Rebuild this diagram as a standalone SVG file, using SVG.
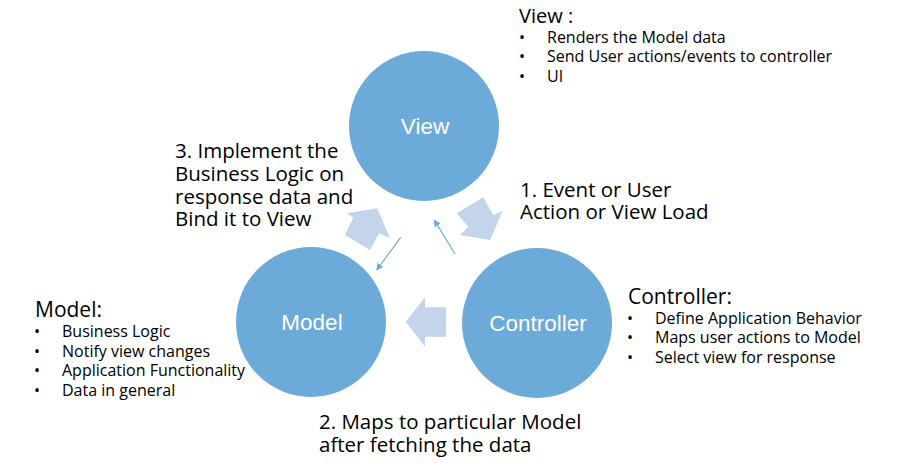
<svg xmlns="http://www.w3.org/2000/svg" width="918" height="469" viewBox="0 0 918 469">
<style>
.circ{fill:#6CAAD9}
.node{font-family:"Liberation Sans",Arial,sans-serif;font-size:22.5px;fill:#fff;text-anchor:middle}
.lbl{font-family:"Open Sans","Noto Sans",sans-serif;font-size:20.5px;fill:#000}
.hd{font-family:"Open Sans","Noto Sans",sans-serif;font-size:21px;fill:#000}
.bl{font-family:"Open Sans","Noto Sans",sans-serif;font-size:16px;fill:#000}
.blk{fill:#C3D4EB}
.thin{stroke:#6CAAD9;stroke-width:1.2;fill:none}
</style>
<defs>
<marker id="ah" viewBox="0 0 10 10" refX="9" refY="5" markerWidth="7" markerHeight="7" orient="auto" markerUnits="userSpaceOnUse">
<path d="M0,0 L10,5 L0,10 z" fill="#6CAAD9"/>
</marker>
</defs>
<rect width="918" height="469" fill="#fff"/>
<g id="connectors">
<polygon class="blk" points="456.7,213.3 483.3,197.3 493.3,215 502.7,210.7 490,240 460,235 468.3,226.7"/>
<polygon class="blk" points="405.7,321.7 425,297.3 425,307.3 446,307.3 446,336.7 425,336.7 425,346.7"/>
<polygon class="blk" points="377.3,208.3 346.7,213.3 353.3,217.7 345,235 370,250 379.3,233.3 390,238.3"/>
<line class="thin" x1="400.7" y1="237.3" x2="376.7" y2="270" marker-end="url(#ah)"/>
<line class="thin" x1="455" y1="254" x2="434.3" y2="220" marker-end="url(#ah)"/>
</g>
<g id="view">
<circle class="circ" cx="424" cy="126" r="75"/>
<text class="node" x="425" y="134">View</text>
</g>
<g id="model">
<circle class="circ" cx="311" cy="322" r="75"/>
<text class="node" x="312" y="330">Model</text>
</g>
<g id="controller">
<circle class="circ" cx="537" cy="323" r="75"/>
<text class="node" x="538" y="331">Controller</text>
</g>
<g id="view-desc">
<text class="hd" x="519" y="23" style="font-size:20px">View :</text>
<text class="bl" x="519" y="43">•</text><text class="bl" x="547" y="43">Renders the Model data</text>
<text class="bl" x="519" y="62">•</text><text class="bl" x="547" y="62">Send User actions/events to controller</text>
<text class="bl" x="519" y="82">•</text><text class="bl" x="547" y="82">UI</text>
</g>
<g id="model-desc">
<text class="hd" x="35" y="317">Model:</text>
<text class="bl" x="34" y="337">•</text><text class="bl" x="62" y="337">Business Logic</text>
<text class="bl" x="34" y="357">•</text><text class="bl" x="62" y="357">Notify view changes</text>
<text class="bl" x="34" y="376">•</text><text class="bl" x="62" y="376">Application Functionality</text>
<text class="bl" x="34" y="396">•</text><text class="bl" x="62" y="396">Data in general</text>
</g>
<g id="controller-desc">
<text class="hd" x="628" y="304">Controller:</text>
<text class="bl" x="627" y="324">•</text><text class="bl" x="655" y="324">Define Application Behavior</text>
<text class="bl" x="627" y="343">•</text><text class="bl" x="655" y="343">Maps user actions to Model</text>
<text class="bl" x="627" y="363">•</text><text class="bl" x="655" y="363">Select view for response</text>
</g>
<g id="label3">
<text class="lbl" x="175" y="158">3. Implement the</text>
<text class="lbl" x="175" y="181">Business Logic on</text>
<text class="lbl" x="175" y="203.5">response data and</text>
<text class="lbl" x="175" y="226">Bind it to View</text>
</g>
<g id="label1">
<text class="lbl" x="520" y="196.5">1. Event or User</text>
<text class="lbl" x="520" y="219">Action or View Load</text>
</g>
<g id="label2">
<text class="lbl" x="319" y="429">2. Maps to particular Model</text>
<text class="lbl" x="319" y="451.5">after fetching the data</text>
</g>
</svg>
